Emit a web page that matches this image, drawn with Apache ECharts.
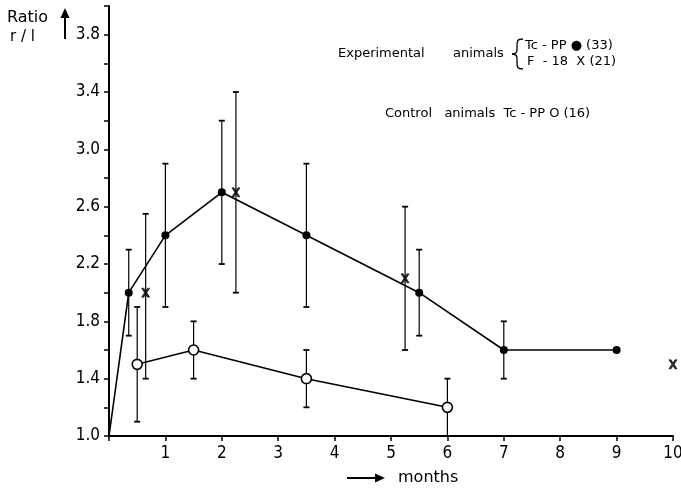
<!DOCTYPE html>
<html>
<head>
<meta charset="utf-8">
<script src="https://cdn.jsdelivr.net/npm/echarts@6/dist/echarts.min.js"></script>
<style>html,body{margin:0;padding:0;background:#fff}#c{width:681px;height:490px}</style>
</head>
<body>
<div id="c"></div>
<script>
// Experimental animals, Tc-PP (filled circles, connected line) [month, ratio]
const expTc = [[0, 1.0], [0.35, 2.0], [1, 2.4], [2, 2.7], [3.5, 2.4], [5.5, 2.0], [7, 1.6], [9, 1.6]];
// error bars [month, low, high]
const expTcErr = [[0.35, 1.7, 2.3], [1, 1.9, 2.9], [2, 2.2, 3.2], [3.5, 1.9, 2.9], [5.5, 1.7, 2.3], [7, 1.4, 1.8]];
// Experimental animals, F-18 (X markers)
const expF18 = [[0.65, 2.0], [2.25, 2.7], [5.25, 2.1], [10, 1.5]];
const expF18Err = [[0.65, 1.4, 2.55], [2.25, 2.0, 3.4], [5.25, 1.6, 2.6]];
// Control animals, Tc-PP (open circles)
const ctrlTc = [[0.5, 1.5], [1.5, 1.6], [3.5, 1.4], [6, 1.2]];
const ctrlTcErr = [[0.5, 1.1, 1.9], [1.5, 1.4, 1.8], [3.5, 1.2, 1.6], [6, 1.0, 1.4]];

const xTicks = [1, 2, 3, 4, 5, 6, 7, 8, 9, 10];
const yTickLabels = [1.0, 1.4, 1.8, 2.2, 2.6, 3.0, 3.4, 3.8];

const chart = echarts.init(document.getElementById('c'), null, {renderer: 'canvas'});

function errRender(params, api) {
  const x = api.value(0), lo = api.value(1), hi = api.value(2);
  const a = api.coord([x, lo]), b = api.coord([x, hi]);
  const w = 3;
  const st = {stroke: '#000', lineWidth: 1.2};
  const cap = {stroke: '#000', lineWidth: 1.8};
  return {type: 'group', children: [
    {type: 'line', shape: {x1: a[0], y1: a[1], x2: b[0], y2: b[1]}, style: st},
    {type: 'line', shape: {x1: a[0] - w, y1: a[1], x2: a[0] + w, y2: a[1]}, style: cap},
    {type: 'line', shape: {x1: b[0] - w, y1: b[1], x2: b[0] + w, y2: b[1]}, style: cap}
  ]};
}

const xSym = 'path://M0,0 L2.6,0 L5,3.6 L7.4,0 L10,0 L6.4,5 L10,10 L7.4,10 L5,6.4 L2.6,10 L0,10 L3.6,5 Z';
const FC = 'DejaVu Sans Condensed';

function txt(x, y, s, size) {
  return {type: 'text', x: x, y: y, style: {text: s, font: size + 'px "DejaVu Sans"', fill: '#000', verticalAlign: 'middle', align: 'left'}};
}
function bez(p0, c1, c2, p1) {
  return {type: 'bezierCurve', shape: {x1: p0[0], y1: p0[1], cpx1: c1[0], cpy1: c1[1], cpx2: c2[0], cpy2: c2[1], x2: p1[0], y2: p1[1]},
    style: {stroke: '#000', lineWidth: 1.3, fill: null}};
}
function seg(x1, y1, x2, y2, w) {
  return {type: 'line', shape: {x1: x1, y1: y1, x2: x2, y2: y2}, style: {stroke: '#000', lineWidth: w}};
}

const option = {
  animation: false,
  backgroundColor: '#fff',
  grid: {left: 109, right: 8, top: 6, bottom: 54, outerBoundsMode: 'none', containLabel: false},
  xAxis: {
    type: 'value', min: 0, max: 10, interval: 1,
    axisLine: {show: true, onZero: false, lineStyle: {color: '#000', width: 2}},
    axisTick: {show: true, inside: false, length: 5, lineStyle: {color: '#000', width: 1.5}},
    axisLabel: {
      margin: 9, color: '#000', fontFamily: FC, fontSize: 17,
      formatter: v => xTicks.indexOf(v) >= 0 ? String(v) : ''
    },
    splitLine: {show: false}
  },
  yAxis: {
    type: 'value', min: 1.0, max: 4.0, interval: 0.2,
    axisLine: {show: true, onZero: false, lineStyle: {color: '#000', width: 2}},
    axisTick: {show: true, inside: false, length: 5, lineStyle: {color: '#000', width: 1.5}},
    axisLabel: {
      margin: 9, color: '#000', fontFamily: FC, fontSize: 17,
      formatter: v => {
        const m = yTickLabels.find(t => Math.abs(t - v) < 1e-6);
        return m !== undefined ? m.toFixed(1) : '';
      }
    },
    splitLine: {show: false}
  },
  series: [
    {type: 'custom', renderItem: errRender, data: expTcErr, encode: {x: 0, y: [1, 2]}, z: 1, clip: false},
    {type: 'custom', renderItem: errRender, data: expF18Err, encode: {x: 0, y: [1, 2]}, z: 1, clip: false},
    {type: 'custom', renderItem: errRender, data: ctrlTcErr, encode: {x: 0, y: [1, 2]}, z: 1, clip: false},
    {
      type: 'line', z: 3, clip: false,
      data: expTc.map((p, i) => i === 0 ? {value: p, symbol: 'none'} : p),
      symbol: 'circle', symbolSize: 8,
      itemStyle: {color: '#000'},
      lineStyle: {color: '#000', width: 1.6}
    },
    {
      type: 'line', z: 3, clip: false,
      data: ctrlTc,
      symbol: 'circle', symbolSize: 10,
      itemStyle: {color: '#fff', borderColor: '#000', borderWidth: 1.6},
      lineStyle: {color: '#000', width: 1.6}
    },
    {
      type: 'scatter', z: 4, clip: false,
      data: expF18,
      symbol: xSym, symbolSize: [8, 9],
      itemStyle: {color: '#000', borderColor: '#000', borderWidth: 0.8}
    }
  ],
  graphic: [
    txt(7, 18, 'Ratio', 16),
    txt(10, 37, 'r / l', 15),
    seg(65, 16, 65, 39, 2),
    {type: 'polygon', shape: {points: [[65, 8], [69.5, 18], [60.5, 18]]}, style: {fill: '#000'}},

    txt(338, 54, 'Experimental', 13),
    txt(453, 54, 'animals', 13),
    bez([523, 39], [517, 39], [517, 41], [517, 46]),
    seg(517, 46, 517, 50, 1.3),
    bez([517, 50], [517, 53], [515, 54], [512, 54]),
    bez([512, 54], [515, 54], [517, 55], [517, 58]),
    seg(517, 58, 517, 62, 1.3),
    bez([517, 62], [517, 67], [517, 69], [523, 69]),
    txt(525, 46, 'Tc - PP ● (33)', 13),
    txt(527, 62, 'F  - 18  X (21)', 13),
    txt(385, 114, 'Control   animals  Tc - PP O (16)', 13),

    seg(347, 478, 376, 478, 2),
    {type: 'polygon', shape: {points: [[385, 478], [375, 473.5], [375, 482.5]]}, style: {fill: '#000'}},
    txt(398, 478, 'months', 16)
  ]
};
chart.setOption(option);
</script>
</body>
</html>
